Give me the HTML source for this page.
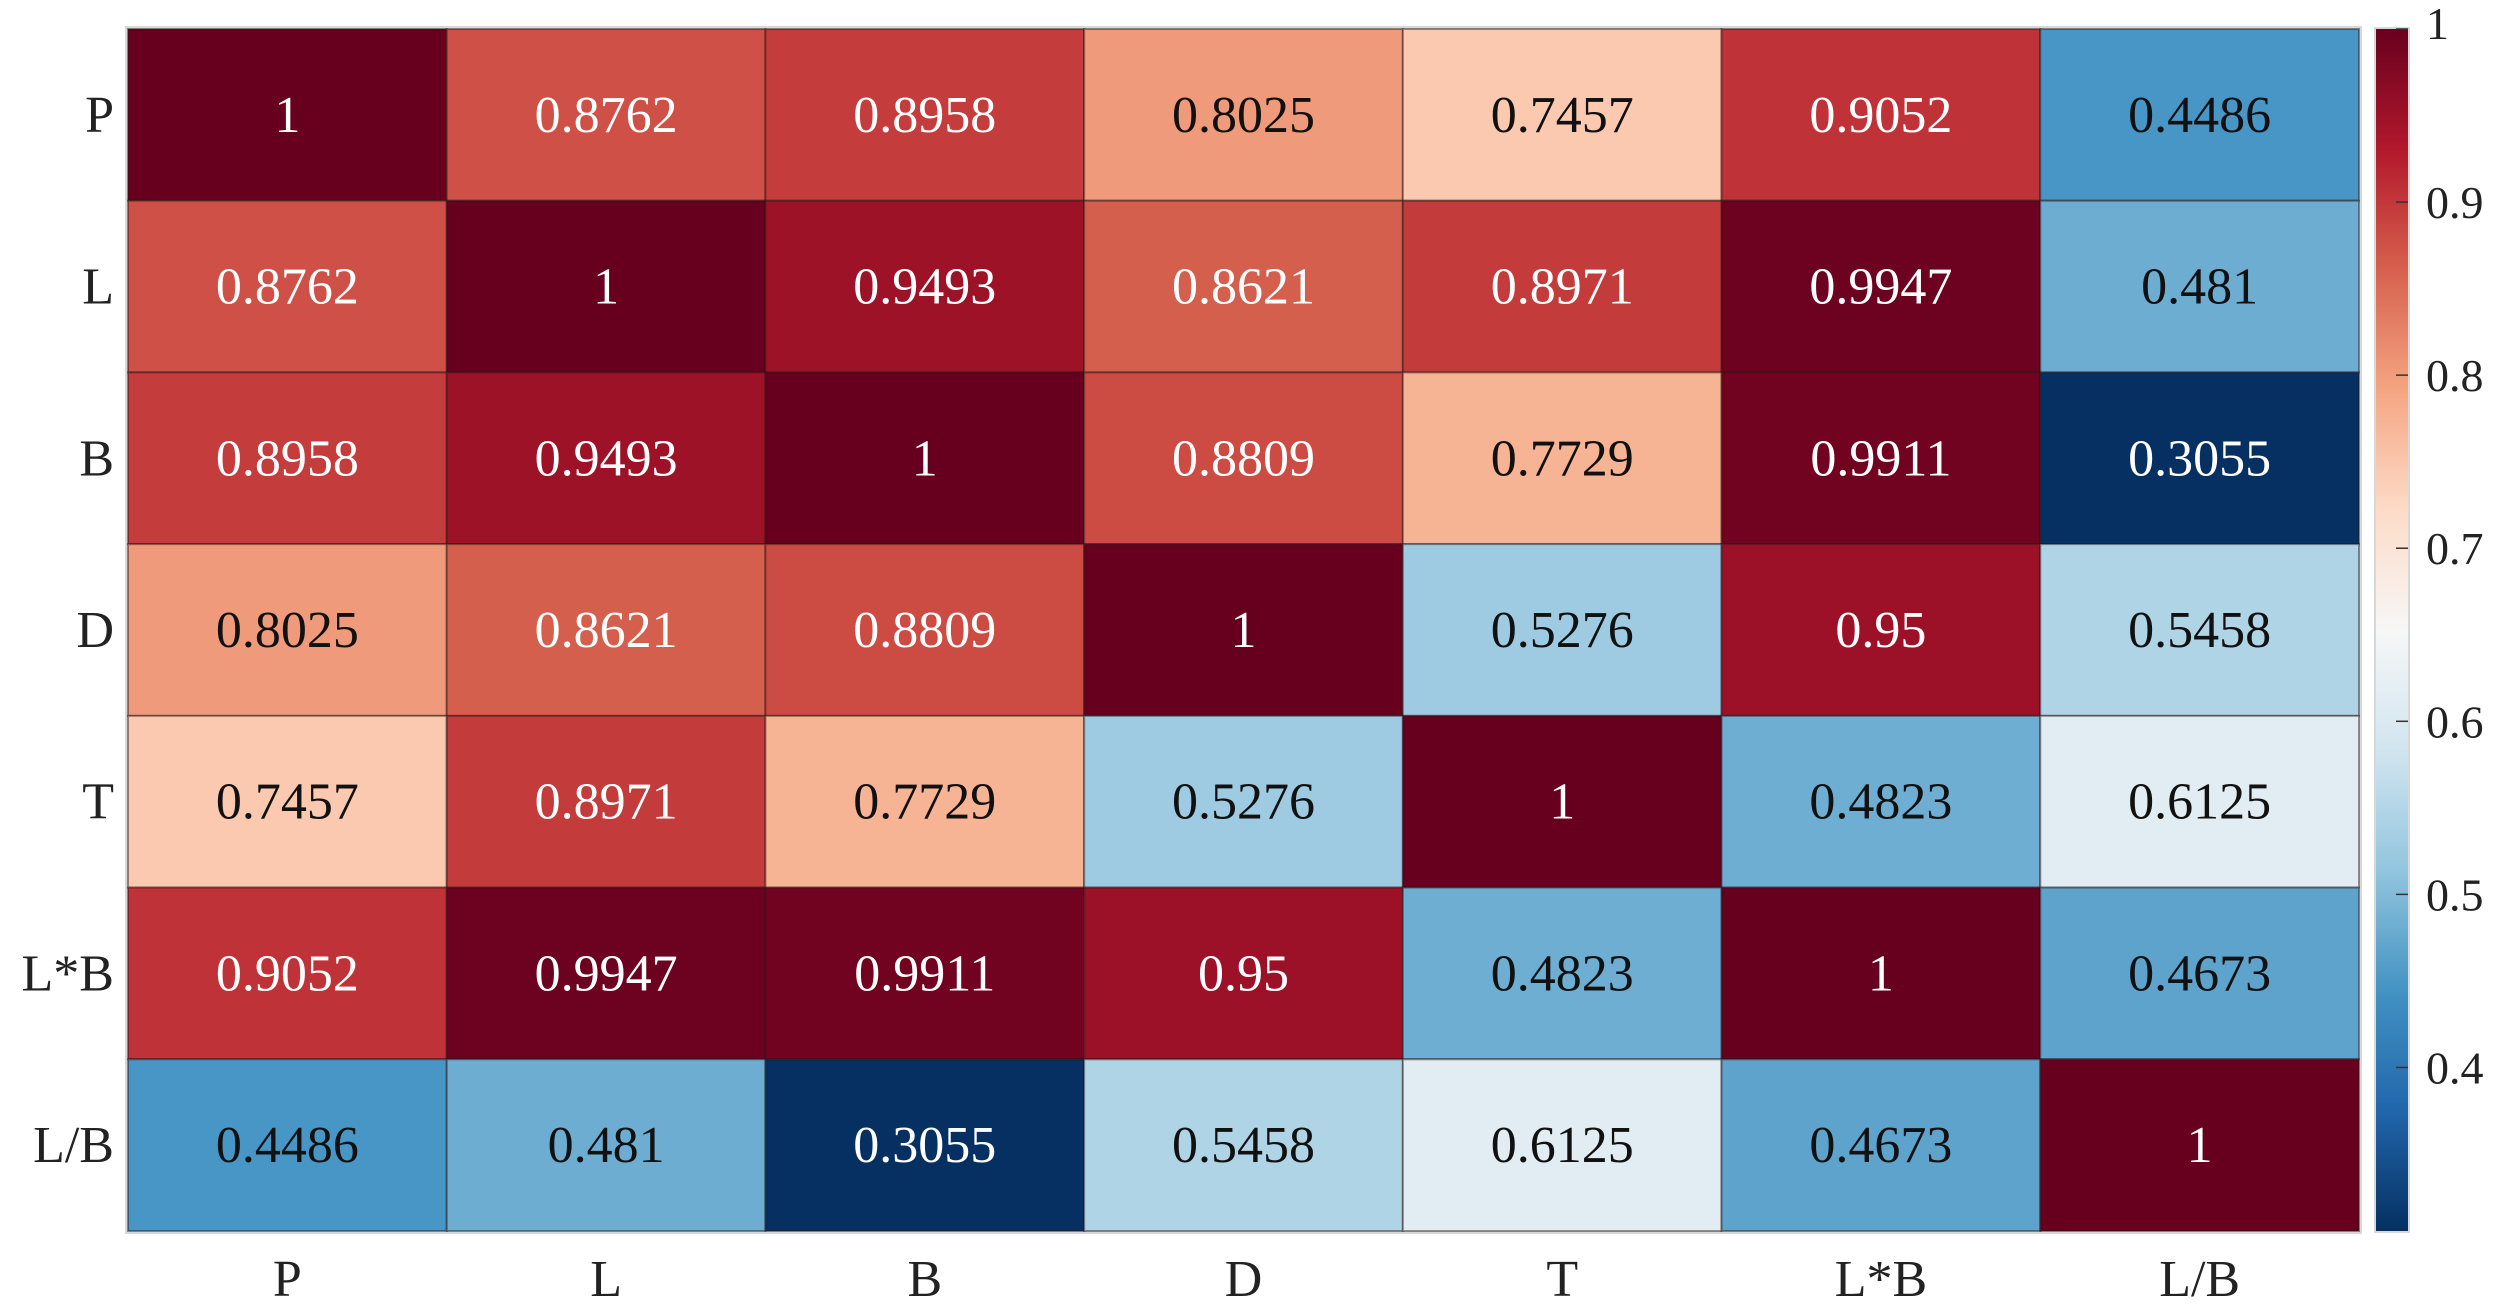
<!DOCTYPE html>
<html><head><meta charset="utf-8"><style>
body{margin:0;background:#fff;}
svg{display:block;font-family:"Liberation Serif",serif;}
</style></head><body>
<svg id="chart" width="2500" height="1314" viewBox="0 0 2500 1314" xmlns="http://www.w3.org/2000/svg">
<defs><linearGradient id="cbgrad" x1="0" y1="1" x2="0" y2="0"></linearGradient></defs>
<g id="cells"></g><g id="labels"></g><g id="cbar"></g>
</svg>
<script>
const categories = ["P","L","B","D","T","L*B","L/B"];
const row0 = [1,0.8762,0.8958,0.8025,0.7457,0.9052,0.4486];
const row1 = [0.8762,1,0.9493,0.8621,0.8971,0.9947,0.481];
const row2 = [0.8958,0.9493,1,0.8809,0.7729,0.9911,0.3055];
const row3 = [0.8025,0.8621,0.8809,1,0.5276,0.95,0.5458];
const row4 = [0.7457,0.8971,0.7729,0.5276,1,0.4823,0.6125];
const row5 = [0.9052,0.9947,0.9911,0.95,0.4823,1,0.4673];
const row6 = [0.4486,0.481,0.3055,0.5458,0.6125,0.4673,1];
const matrix = [row0,row1,row2,row3,row4,row5,row6];
const cbTicks = [0.4,0.5,0.6,0.7,0.8,0.9,1];
const cbLabels = ["0.4","0.5","0.6","0.7","0.8","0.9","1"];

const NS="http://www.w3.org/2000/svg";
const L=128,T=29,R=2359,B=1231;
const n=categories.length, cw=(R-L)/n, ch=(B-T)/n;
let vmin=Infinity,vmax=-Infinity;
matrix.forEach(r=>r.forEach(v=>{vmin=Math.min(vmin,v);vmax=Math.max(vmax,v);}));
const stops=["#053061","#2166ac","#4393c3","#92c5de","#d1e5f0","#f7f7f7","#fddbc7","#f4a582","#d6604d","#b2182b","#67001f"];
function hex(h){return [1,3,5].map(i=>parseInt(h.substr(i,2),16));}
function color(v){
  let t=(v-vmin)/(vmax-vmin); t=Math.max(0,Math.min(1,t));
  const p=t*(stops.length-1), i=Math.min(Math.floor(p),stops.length-2), f=p-i;
  const a=hex(stops[i]), b=hex(stops[i+1]);
  return "rgb("+a.map((x,k)=>Math.round(x+(b[k]-x)*f)).join(",")+")";
}
function lum(v){const t=(v-vmin)/(vmax-vmin);return t>0.78||t<0.12;}
function mk(tag,attrs,parent){const e=document.createElementNS(NS,tag);for(const k in attrs)e.setAttribute(k,attrs[k]);parent.appendChild(e);return e;}
const cells=document.getElementById("cells"), labels=document.getElementById("labels"), cbar=document.getElementById("cbar");
const frame=mk("rect",{x:L-3,y:T-3,width:R-L+6,height:B-T+6,fill:"#d8d8d8"},cells);


matrix.forEach((r,i)=>r.forEach((v,j)=>{
  const x=L+j*cw, y=T+i*ch;
  const rc=mk("rect",{x:x,y:y,width:cw,height:ch,fill:color(v),stroke:"rgba(40,20,20,0.45)","stroke-width":2},cells);
  
  
  const tx=mk("text",{x:x+cw/2,y:y+ch/2+17,"text-anchor":"middle","font-size":52,fill:lum(v)?"#fff":"#111"},cells);
  tx.textContent=String(v);
  
  
}));
categories.forEach((c,i)=>{
  const yl=mk("text",{x:L-14,y:T+i*ch+ch/2+17,"text-anchor":"end","font-size":52,fill:"#222"},labels);
  yl.textContent=c;
  
  
  const xl=mk("text",{x:L+i*cw+cw/2,y:B+65,"text-anchor":"middle","font-size":52,fill:"#222"},labels);
  xl.textContent=c;
  
  
});
const CX=2376,CW=32;
const g=document.getElementById("cbgrad");
stops.forEach((s,i)=>mk("stop",{offset:i/(stops.length-1),"stop-color":s},g));
mk("rect",{x:CX-2,y:T-2,width:CW+4,height:B-T+4,fill:"#d8d8d8"},cbar);
const cb=mk("rect",{x:CX,y:T,width:CW,height:B-T,fill:"url(#cbgrad)"},cbar);


function cy(v){return B-(v-vmin)/(vmax-vmin)*(B-T);}
cbTicks.forEach((v,i)=>{
  const y=cy(v);
  mk("line",{x1:CX+CW-12,x2:CX+CW,y1:y,y2:y,stroke:"#333","stroke-width":1.5},cbar);
  const t=mk("text",{x:CX+CW+18,y:y+(v===1?10:16),"font-size":46,fill:"#222"},cbar);
  t.textContent=cbLabels[i];
  
  
});
</script>
</body></html>
